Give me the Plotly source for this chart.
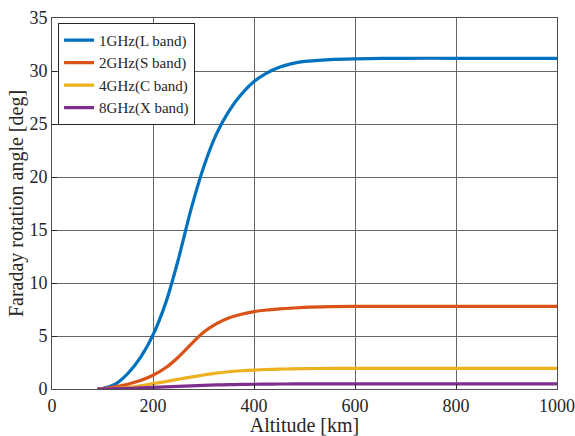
import plotly.graph_objects as go

altitude = [90, 100, 125, 150, 175, 200, 225, 250, 275, 300, 325, 350, 375, 400, 425, 450, 475, 500, 550, 600, 700, 800, 900, 1000]
l_band = [0, 0.03, 0.45, 1.45, 2.95, 5.1, 8.1, 12.2, 16.9, 20.9, 24.0, 26.2, 27.8, 29.0, 29.8, 30.35, 30.7, 30.9, 31.08, 31.15, 31.2, 31.2, 31.2, 31.2]
s_band = [0, 0.03, 0.2, 0.45, 0.8, 1.3, 2.0, 3.0, 4.2, 5.35, 6.15, 6.7, 7.05, 7.3, 7.45, 7.55, 7.63, 7.7, 7.77, 7.8, 7.8, 7.8, 7.8, 7.8]
c_band = [0, 0.01, 0.06, 0.15, 0.3, 0.5, 0.7, 0.92, 1.12, 1.32, 1.5, 1.63, 1.72, 1.79, 1.84, 1.87, 1.9, 1.92, 1.94, 1.95, 1.95, 1.95, 1.95, 1.95]
x_band = [0, 0.01, 0.03, 0.05, 0.1, 0.15, 0.2, 0.25, 0.3, 0.34, 0.38, 0.41, 0.43, 0.45, 0.46, 0.47, 0.475, 0.48, 0.485, 0.49, 0.49, 0.49, 0.49, 0.49]

names = ["1GHz(L band)", "2GHz(S band)", "4GHz(C band)", "8GHz(X band)"]
colors = ["#0072BD", "#D95319", "#EDB120", "#7E2F8E"]
series = [l_band, s_band, c_band, x_band]

fig = go.Figure()
for n, c, s in zip(names, colors, series):
    fig.add_trace(go.Scatter(x=altitude, y=s, name=n, mode="lines",
                             line=dict(color=c, width=3.2, shape="spline", smoothing=0.9)))

font = "Liberation Serif, Times New Roman, serif"
axcommon = dict(showline=True, linecolor="#4d4d4d", linewidth=1, mirror=True,
                showgrid=True, gridcolor="#666666", gridwidth=1,
                ticks="inside", ticklen=5, tickcolor="#262626",
                tickfont=dict(family=font, size=18, color="#262626"),
                zeroline=False, automargin=False)
fig.update_xaxes(range=[0, 1000], dtick=200,
                 title=dict(text="Altitude [km]", font=dict(family=font, size=20, color="#262626"), standoff=4),
                 **axcommon)
fig.update_yaxes(range=[0, 35], dtick=5,
                 title=dict(text="Faraday rotation angle [deg]", font=dict(family=font, size=20, color="#262626"), standoff=0),
                 **axcommon)

fig.update_layout(
    width=575, height=436,
    margin=dict(l=52, r=18, t=18, b=47),
    paper_bgcolor="white", plot_bgcolor="white",
    showlegend=True,
    legend=dict(x=0.012, y=0.987, xanchor="left", yanchor="top",
                bgcolor="white", bordercolor="#262626", borderwidth=1,
                font=dict(family=font, size=15, color="#262626"),
                tracegroupgap=0, itemwidth=30),
)
fig.write_html("out.html")
